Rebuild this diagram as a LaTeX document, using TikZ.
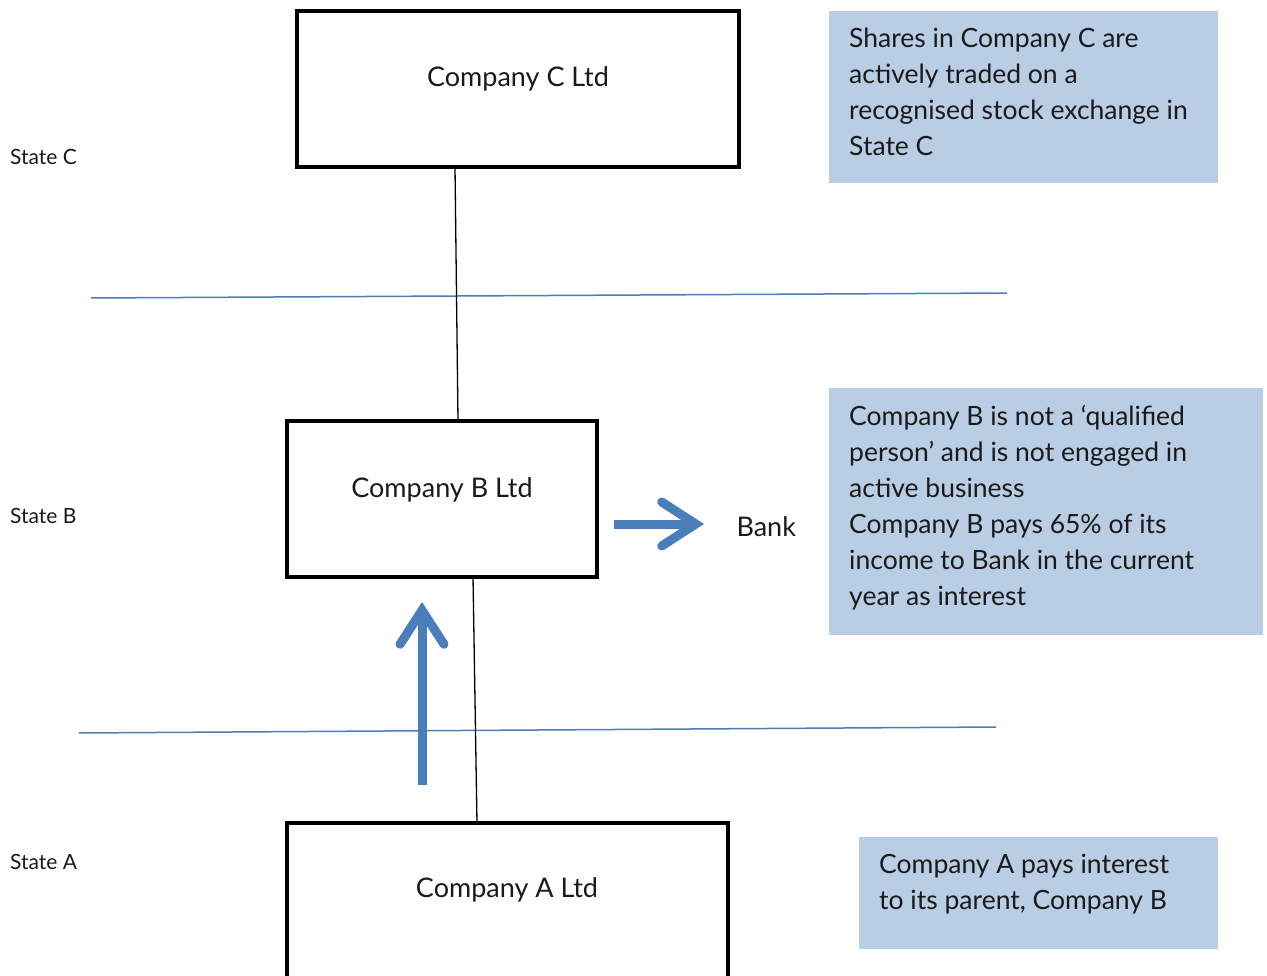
\documentclass[tikz,border=0pt]{standalone}
\usepackage{fontspec}
\setmainfont{Lato}
\usetikzlibrary{arrows.meta}
\definecolor{rule}{HTML}{4A7EBB}
\definecolor{note}{HTML}{B9CDE5}
\definecolor{ink}{HTML}{1A1A1A}
\tikzset{
  x=1pt, y=-1pt,
  company/.style={draw=black, line width=4pt, fill=white},
  border/.style={draw=rule, line width=1.5pt},
  link/.style={draw=black, line width=1.3pt},
  flow/.style={draw=rule, line width=9pt, -{Straight Barb[length=34pt, width=44pt, line width=9pt, line cap=round]}},
  notebox/.style={fill=note},
  notetext/.style={anchor=north west, align=left, text=ink, font=\fontsize{26.5}{36}\selectfont, inner sep=0pt},
  boxlabel/.style={text=ink, font=\fontsize{27}{30}\selectfont},
  statelabel/.style={anchor=west, text=ink, font=\fontsize{21}{24}\selectfont, inner sep=0pt},
}
\begin{document}
\begin{tikzpicture}
\useasboundingbox (0,0) rectangle (1267,976);
\clip (0,0) rectangle (1267,976);

% state borders
\draw[border] (91,298) -- (1007,293);
\draw[border] (79,733) -- (996,727);

% ownership links
\coordinate (cb) at (455,167);
\coordinate (bt) at (458,421);
\coordinate (bb) at (473,577);
\coordinate (at) at (477,823);
\draw[link] (cb) -- (bt);
\draw[link] (bb) -- (at);

% companies
\draw[company] (297,11) rectangle (739,167);
\node[boxlabel] (compC) at (518,79) {Company C Ltd};
\draw[company] (287,421) rectangle (597,577);
\node[boxlabel] (compB) at (442,490) {Company B Ltd};
\draw[company] (287,823) rectangle (728,990);
\node[boxlabel] (compA) at (507,890) {Company A Ltd};

% payment flows
\coordinate (upS) at (422,785);
\coordinate (upE) at (422,602);
\draw[flow] (upS) -- (upE);
\node[boxlabel, anchor=west] (bank) at (733,527) {Bank};
\coordinate (rtS) at (614,524);
\coordinate (rtE) at (704,524);
\draw[flow] (rtS) -- (rtE);

% state labels
\node[statelabel] (stC) at (10,157) {State C};
\node[statelabel] (stB) at (10,516) {State B};
\node[statelabel] (stA) at (10,862) {State A};

% notes
\fill[notebox] (829,11) rectangle (1218,183);
\node[notetext] (noteC) at (849,28) {Shares in Company C are\\actively traded on a\\recognised stock exchange in\\State C};
\fill[notebox] (829,388) rectangle (1263,635);
\node[notetext] (noteB) at (849,405) {Company B is not a ‘qualified\\person’ and is not engaged in\\active business\\Company B pays 65\% of its\\income to Bank in the current\\year as interest};
\fill[notebox] (859,837) rectangle (1218,949);
\node[notetext] (noteA) at (879,854) {Company A pays interest\\to its parent, Company B};
\end{tikzpicture}
\end{document}
